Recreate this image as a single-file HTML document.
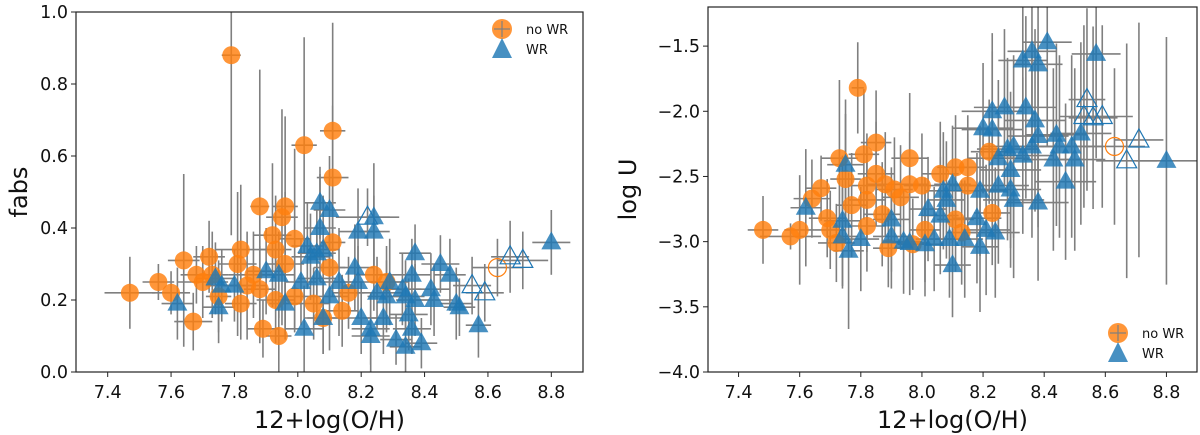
<!DOCTYPE html>
<html><head><meta charset="utf-8"><style>
html,body{margin:0;padding:0;background:#fff;}
svg{display:block;font-family:"DejaVu Sans","Liberation Sans",sans-serif;}
</style></head><body>
<svg id="fig" width="1200" height="435" viewBox="0 0 1200 435" xmlns="http://www.w3.org/2000/svg"></svg>
<script>
// ---- data: [x, y, xerr, yerr] ----
const xTicks = [7.4, 7.6, 7.8, 8.0, 8.2, 8.4, 8.6, 8.8];
const fabsTicks = [0.0, 0.2, 0.4, 0.6, 0.8, 1.0];
const logUTicks = [-4.0, -3.5, -3.0, -2.5, -2.0, -1.5];

const fabsNoWR = [[7.47,0.22,0.08,0.1],[7.56,0.25,0.05,0.05],[7.60,0.22,0.06,0.06],[7.64,0.31,0.05,0.24],[7.67,0.14,0.06,0.08],
[7.68,0.27,0.05,0.08],[7.72,0.32,0.05,0.1],[7.70,0.25,0.08,0.1],[7.73,0.27,0.05,0.12],[7.75,0.21,0.04,0.1],
[7.79,0.88,0.03,0.5],[7.82,0.34,0.08,0.18],[7.81,0.30,0.06,0.2],[7.82,0.19,0.05,0.1],[7.84,0.24,0.06,0.15],
[7.86,0.27,0.08,0.12],[7.88,0.46,0.03,0.38],[7.88,0.23,0.05,0.12],[7.89,0.12,0.05,0.08],[7.92,0.38,0.06,0.2],
[7.93,0.34,0.05,0.15],[7.94,0.10,0.04,0.12],[7.93,0.20,0.06,0.12],[7.95,0.43,0.05,0.3],[7.96,0.46,0.04,0.25],
[7.96,0.30,0.06,0.2],[7.99,0.37,0.05,0.25],[7.99,0.21,0.05,0.1],[8.02,0.63,0.04,0.3],[8.05,0.19,0.05,0.1],
[8.08,0.15,0.05,0.1],[8.10,0.29,0.05,0.1],[8.11,0.67,0.04,0.3],[8.11,0.54,0.05,0.2],[8.11,0.36,0.04,0.15],
[8.14,0.17,0.05,0.1],[8.16,0.22,0.05,0.1],[8.24,0.27,0.06,0.1],[8.28,0.25,0.05,0.1]];
const fabsNoWROpen = [[8.63,0.29,0.08,0.08]];
const fabsWR = [[7.62,0.19,0.05,0.1],[7.74,0.26,0.06,0.1],[7.75,0.18,0.05,0.1],[7.76,0.24,0.05,0.1],[7.80,0.24,0.06,0.1],
[7.90,0.28,0.06,0.12],[7.94,0.27,0.05,0.12],[7.96,0.19,0.05,0.1],[8.01,0.25,0.05,0.12],[8.02,0.12,0.06,0.12],
[8.03,0.35,0.05,0.12],[8.04,0.32,0.06,0.12],[8.06,0.33,0.06,0.12],[8.06,0.26,0.06,0.12],[8.07,0.47,0.05,0.1],
[8.08,0.34,0.05,0.15],[8.08,0.15,0.06,0.1],[8.10,0.21,0.06,0.15],[8.10,0.45,0.05,0.15],[8.07,0.40,0.05,0.15],
[8.13,0.25,0.06,0.15],[8.18,0.29,0.06,0.12],[8.19,0.39,0.06,0.12],[8.19,0.25,0.08,0.1],[8.20,0.15,0.06,0.1],
[8.23,0.12,0.06,0.1],[8.23,0.10,0.06,0.1],[8.24,0.43,0.05,0.15],[8.24,0.39,0.05,0.1],[8.25,0.22,0.08,0.1],
[8.27,0.15,0.06,0.1],[8.28,0.21,0.06,0.1],[8.29,0.25,0.06,0.12],[8.31,0.09,0.05,0.07],[8.33,0.23,0.06,0.1],
[8.34,0.21,0.06,0.1],[8.34,0.07,0.05,0.07],[8.35,0.16,0.06,0.1],[8.36,0.27,0.06,0.1],[8.36,0.12,0.06,0.07],
[8.37,0.33,0.05,0.08],[8.37,0.20,0.06,0.1],[8.39,0.08,0.05,0.07],[8.42,0.23,0.06,0.1],[8.43,0.20,0.06,0.1],
[8.45,0.30,0.06,0.08],[8.48,0.27,0.05,0.1],[8.50,0.19,0.05,0.1],[8.51,0.18,0.05,0.08],[8.57,0.13,0.04,0.09],
[8.80,0.36,0.06,0.09]];
const fabsWROpen = [[8.22,0.43,0.1,0.08],[8.55,0.24,0.06,0.08],[8.59,0.22,0.06,0.08],[8.67,0.32,0.06,0.1],[8.71,0.31,0.08,0.08]];

const logUNoWR = [[7.48,-2.91,0.05,0.26],[7.57,-2.96,0.1,0.1],[7.60,-2.91,0.05,0.42],[7.64,-2.67,0.06,0.3],[7.67,-2.59,0.05,0.25],
[7.69,-2.82,0.06,0.3],[7.70,-2.91,0.05,0.3],[7.72,-3.01,0.06,0.3],[7.73,-2.36,0.06,0.6],[7.75,-2.52,0.05,0.5],
[7.77,-2.72,0.05,0.4],[7.79,-1.82,0.02,0.35],[7.81,-2.33,0.05,0.5],[7.82,-2.57,0.06,0.4],[7.82,-2.68,0.06,0.4],
[7.82,-2.88,0.06,0.35],[7.85,-2.24,0.05,0.4],[7.85,-2.48,0.06,0.4],[7.87,-2.79,0.06,0.4],[7.88,-2.56,0.06,0.4],
[7.89,-3.05,0.05,0.3],[7.91,-2.60,0.06,0.4],[7.93,-2.66,0.06,0.4],[7.96,-2.36,0.06,0.5],[7.96,-2.56,0.06,0.4],
[7.97,-3.02,0.05,0.35],[8.00,-2.57,0.06,0.4],[8.01,-2.91,0.05,0.4],[8.06,-2.48,0.06,0.4],[8.11,-2.43,0.06,0.4],
[8.11,-2.83,0.06,0.4],[8.13,-2.93,0.05,0.4],[8.15,-2.43,0.06,0.4],[8.15,-2.57,0.06,0.4],[8.22,-2.31,0.06,0.4],[8.23,-2.78,0.06,0.4]];
const logUNoWROpen = [[8.63,-2.27,0.1,0.6]];
const logUWR = [[7.62,-2.74,0.05,0.45],[7.75,-2.41,0.06,0.5],[7.74,-2.84,0.06,0.5],[7.74,-2.96,0.05,0.4],[7.76,-3.07,0.05,0.6],
[7.80,-2.98,0.06,0.4],[7.90,-2.83,0.06,0.4],[7.90,-2.96,0.06,0.4],[7.94,-3.00,0.06,0.4],[7.96,-3.01,0.06,0.4],
[8.01,-3.02,0.06,0.4],[8.02,-2.75,0.06,0.4],[8.04,-2.98,0.06,0.4],[8.06,-2.80,0.06,0.45],[8.07,-2.61,0.06,0.45],
[8.08,-2.68,0.06,0.45],[8.09,-2.98,0.06,0.45],[8.10,-2.56,0.06,0.45],[8.10,-3.18,0.06,0.4],[8.14,-2.98,0.06,0.45],
[8.19,-2.61,0.08,0.5],[8.18,-2.82,0.08,0.5],[8.19,-3.04,0.06,0.5],[8.20,-2.13,0.1,0.5],[8.21,-2.91,0.08,0.5],
[8.23,-2.00,0.1,0.6],[8.23,-2.14,0.1,0.6],[8.24,-2.93,0.08,0.5],[8.25,-2.36,0.1,0.6],[8.25,-2.57,0.1,0.6],
[8.27,-1.97,0.1,0.6],[8.28,-2.29,0.1,0.7],[8.29,-2.45,0.1,0.6],[8.29,-2.60,0.1,0.6],[8.30,-2.27,0.1,0.7],
[8.30,-2.68,0.1,0.6],[8.33,-1.61,0.08,0.7],[8.33,-2.34,0.1,0.6],[8.34,-1.97,0.1,0.7],[8.36,-1.54,0.08,0.8],
[8.36,-2.27,0.1,0.7],[8.37,-2.07,0.1,0.7],[8.38,-2.19,0.1,0.7],[8.38,-1.64,0.08,0.8],[8.38,-2.70,0.1,0.6],
[8.41,-1.47,0.08,0.8],[8.43,-2.37,0.1,0.7],[8.44,-2.18,0.1,0.7],[8.45,-2.27,0.1,0.7],[8.47,-2.54,0.1,0.6],
[8.49,-2.27,0.1,0.7],[8.50,-2.37,0.1,0.7],[8.52,-2.17,0.1,0.7],[8.57,-1.56,0.08,0.8],[8.80,-2.38,0.1,0.95]];
const logUWROpen = [[8.54,-1.91,0.06,0.7],[8.53,-2.04,0.08,0.7],[8.56,-2.05,0.08,0.7],[8.59,-2.04,0.1,0.7],[8.71,-2.22,0.08,0.9],[8.67,-2.38,0.1,0.9]];

const NS='http://www.w3.org/2000/svg';
const svg=document.getElementById('fig');
const ORANGE='#ff7f0e', BLUE='#1f77b4', GREY='#7f7f7f';
function mk(tag,attrs,parent){const e=document.createElementNS(NS,tag);for(const k in attrs)e.setAttribute(k,attrs[k]);(parent||svg).appendChild(e);return e;}

function panel(cfg){
  const g=mk('g',{});
  
  
  const sx=v=>cfg.L+(v-cfg.x0)/(cfg.x1-cfg.x0)*(cfg.R-cfg.L);
  const sy=v=>cfg.B-(v-cfg.y0)/(cfg.y1-cfg.y0)*(cfg.B-cfg.T);
  const cid='clip-'+cfg.name;
  const defs=mk('defs',{},g);
  const cp=mk('clipPath',{id:cid},defs);
  mk('rect',{x:cfg.L,y:cfg.T,width:cfg.R-cfg.L,height:cfg.B-cfg.T},cp);
  const plot=mk('g',{'clip-path':'url(#'+cid+')'},g);
  const errs=mk('g',{},plot);
  
  
  const all=[cfg.wr,cfg.wrOpen,cfg.no,cfg.noOpen];
  all.forEach(arr=>arr.forEach(p=>{
    mk('line',{x1:sx(p[0]-p[2]),x2:sx(p[0]+p[2]),y1:sy(p[1]),y2:sy(p[1]),stroke:GREY,'stroke-width':1.6},errs);
    mk('line',{x1:sx(p[0]),x2:sx(p[0]),y1:sy(p[1]-p[3]),y2:sy(p[1]+p[3]),stroke:GREY,'stroke-width':1.6},errs);
  }));
  const drawPt=(p,shape,filled,color,nm)=>{
    const x=sx(p[0]),y=sy(p[1]);let e;
    if(shape==='circ') e=mk('circle',{cx:x,cy:y,r:9},plot);
    else e=mk('polygon',{points:`${x},${y-11} ${x-10},${y+7} ${x+10},${y+7}`},plot);
    if(filled){e.setAttribute('fill',color);e.setAttribute('fill-opacity',0.82);}
    else {e.setAttribute('fill','none');e.setAttribute('stroke',color);e.setAttribute('stroke-width',1.2);}
    
    
  };
  cfg.no.forEach(p=>drawPt(p,'circ',true,ORANGE,'no-wr-point'));
  cfg.noOpen.forEach(p=>drawPt(p,'circ',false,ORANGE,'no-wr-open-point'));
  cfg.wr.forEach(p=>drawPt(p,'tri',true,BLUE,'wr-point'));
  cfg.wrOpen.forEach(p=>drawPt(p,'tri',false,BLUE,'wr-open-point'));
  const fr=mk('rect',{x:cfg.L,y:cfg.T,width:cfg.R-cfg.L,height:cfg.B-cfg.T,fill:'none',stroke:'#222','stroke-width':1.2},g);
  
  
  xTicks.forEach(t=>{
    const x=sx(t);
    mk('line',{x1:x,x2:x,y1:cfg.B,y2:cfg.B+5,stroke:'#222','stroke-width':1},g);
    const tx=mk('text',{x:x,y:cfg.B+26,'font-size':17.5,'text-anchor':'middle',fill:'#111'},g);
    tx.textContent=t.toFixed(1);
    
    
  });
  cfg.yTicks.forEach(t=>{
    const y=sy(t);
    mk('line',{x1:cfg.L-5,x2:cfg.L,y1:y,y2:y,stroke:'#222','stroke-width':1},g);
    const tx=mk('text',{x:cfg.L-8,y:y+6,'font-size':17.5,'text-anchor':'end',fill:'#111'},g);
    tx.textContent=t.toFixed(1).replace('-','\u2212');
    
    
  });
  const xl=mk('text',{x:(cfg.L+cfg.R)/2,y:428,'font-size':24,'text-anchor':'middle',fill:'#111'},g);
  xl.textContent='12+log(O/H)';
  
  
  const yl=mk('text',{x:cfg.ylx,y:(cfg.T+cfg.B)/2,'font-size':24,'text-anchor':'middle',fill:'#111',transform:`rotate(-90 ${cfg.ylx} ${(cfg.T+cfg.B)/2})`},g);
  yl.textContent=cfg.ylabel;
  
  
  const lg=mk('g',{},g);
  
  
  const [lx,ly]=cfg.leg;
  mk('circle',{cx:lx,cy:ly,r:10,fill:ORANGE,'fill-opacity':0.82},lg);
  mk('line',{x1:lx-8,x2:lx+8,y1:ly,y2:ly,stroke:GREY,'stroke-width':1.2},lg);
  mk('line',{x1:lx,x2:lx,y1:ly-8,y2:ly+8,stroke:GREY,'stroke-width':1.2},lg);
  mk('polygon',{points:`${lx},${ly+9} ${lx-10},${ly+29} ${lx+10},${ly+29}`,fill:BLUE,'fill-opacity':0.82},lg);
  const t1=mk('text',{x:lx+24,y:ly+5,'font-size':13,fill:'#111'},lg);t1.textContent='no WR';
  
  
  const t2=mk('text',{x:lx+24,y:ly+25,'font-size':13,fill:'#111'},lg);t2.textContent='WR';
  
  
}
panel({name:'fabs-panel',L:76,R:583,T:12,B:372,x0:7.3,x1:8.9,y0:0,y1:1,yTicks:fabsTicks,ylabel:'fabs',ylx:27,
  no:fabsNoWR,noOpen:fabsNoWROpen,wr:fabsWR,wrOpen:fabsWROpen,leg:[502,29]});
panel({name:'logu-panel',L:708,R:1197,T:7,B:372,x0:7.3,x1:8.9,y0:-4,y1:-1.2,yTicks:logUTicks,ylabel:'log U',ylx:636,
  no:logUNoWR,noOpen:logUNoWROpen,wr:logUWR,wrOpen:logUWROpen,leg:[1118,333]});
</script>
</body></html>
